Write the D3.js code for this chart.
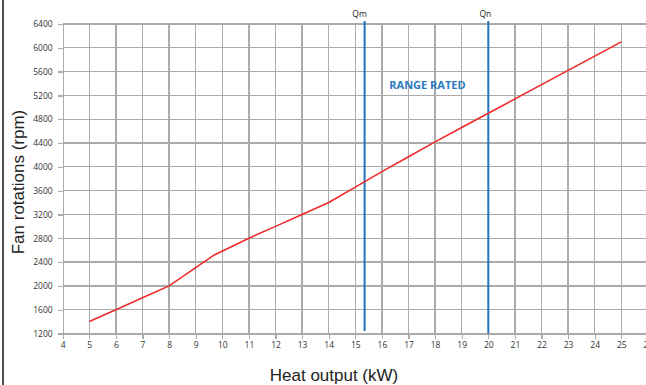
<!DOCTYPE html>
<meta charset="utf-8">
<style>

body {
  margin: 0;
  background: #fff;
}

.grid line {
  stroke: #ababab;
  stroke-width: 1.3;
  shape-rendering: crispEdges;
}

.axis path,
.axis line {
  fill: none;
  stroke: #ababab;
  stroke-width: 1.3;
  shape-rendering: crispEdges;
}

.axis text {
  font: 8.5px "Open Sans", sans-serif;
  fill: #333;
}

.title {
  font: 17px "Liberation Sans", Arial, sans-serif;
  fill: #222;
}

</style>
<body>
<script src="https://d3js.org/d3.v7.min.js"></script>
<script>

// heat output (kW) vs fan speed (rpm)
var heatOutput = [5, 6, 7, 8, 9.7, 11, 12, 13, 14, 15, 16, 17, 18, 19, 20, 25];
var fanRpm = [1400, 1600, 1800, 2000, 2520, 2800, 3000, 3200, 3400, 3660, 3920, 4170, 4420, 4660, 4900, 6100];

var xTicks = [4, 5, 6, 7, 8, 9, 10, 11, 12, 13, 14, 15, 16, 17, 18, 19, 20, 21, 22, 23, 24, 25, 26];
var yTicks = [1200, 1600, 2000, 2400, 2800, 3200, 3600, 4000, 4400, 4800, 5200, 5600, 6000, 6400];

var markerNames = ["Qm", "Qn"];
var markerValues = [15.35, 20];

var width = 646, height = 385;

var x = d3.scaleLinear().domain([4, 26]).range([62.7, 647.9]);
var y = d3.scaleLinear().domain([1200, 6400]).range([333.5, 24]);

var svg = d3.select("body").append("svg")
    .attr("width", width)
    .attr("height", height);

// left frame edge
svg.append("line")
    .attr("x1", 3).attr("x2", 3)
    .attr("y1", 0).attr("y2", height)
    .attr("stroke", "#111")
    .attr("stroke-width", 1.5);

// title, cut off at the top: only descenders show
svg.append("text")
    .attr("class", "title")
    .attr("x", 458)
    .attr("y", -3)
    .attr("text-anchor", "end")
    .text("Fan rotations (space heating)");

// grid
svg.append("g")
    .attr("class", "grid")
  .selectAll("line.v")
    .data(xTicks.slice(1))
  .enter().append("line")
    .attr("x1", function(d) { return x(d); })
    .attr("x2", function(d) { return x(d); })
    .attr("y1", y(6400))
    .attr("y2", y(1200));

svg.append("g")
    .attr("class", "grid")
  .selectAll("line.h")
    .data(yTicks.slice(1))
  .enter().append("line")
    .attr("x1", x(4))
    .attr("x2", x(26))
    .attr("y1", function(d) { return y(d); })
    .attr("y2", function(d) { return y(d); });

// axes
svg.append("g")
    .attr("class", "axis")
    .attr("transform", "translate(0," + y(1200) + ")")
    .call(d3.axisBottom(x).tickValues(xTicks).tickSize(5).tickPadding(3).tickFormat(d3.format("d")));

svg.append("g")
    .attr("class", "axis")
    .attr("transform", "translate(" + x(4) + ",0)")
    .call(d3.axisLeft(y).tickValues(yTicks).tickSize(5).tickPadding(5).tickFormat(d3.format("d")));

// Qm / Qn markers
svg.selectAll(".marker")
    .data(markerValues)
  .enter().append("line")
    .attr("class", "marker")
    .attr("x1", function(d) { return x(d); })
    .attr("x2", function(d) { return x(d); })
    .attr("y1", 21)
    .attr("y2", function(d, i) { return i == 0 ? 331 : y(1200); })
    .attr("stroke", "#1f74ba")
    .attr("stroke-width", 2);

svg.selectAll(".markerLabel")
    .data(markerValues)
  .enter().append("text")
    .attr("class", "markerLabel")
    .attr("x", function(d, i) { return x(d) - (i == 0 ? 5 : 3); })
    .attr("y", 17)
    .attr("text-anchor", "middle")
    .style("font", "8.5px 'Open Sans', sans-serif")
    .style("fill", "#222")
    .text(function(d, i) { return markerNames[i]; });

svg.append("text")
    .attr("x", (x(markerValues[0]) + x(markerValues[1])) / 2 + 1)
    .attr("y", 89)
    .attr("text-anchor", "middle")
    .style("font", "bold 11px 'Open Sans', sans-serif")
    .style("fill", "#2a7bc0")
    .text("RANGE RATED");

// curve
var line = d3.line()
    .x(function(d, i) { return x(heatOutput[i]); })
    .y(function(d) { return y(d); });

svg.append("path")
    .datum(fanRpm)
    .attr("d", line)
    .attr("fill", "none")
    .attr("stroke", "#f02a2a")
    .attr("stroke-width", 1.6);

// axis titles
svg.append("text")
    .attr("class", "title")
    .attr("transform", "translate(24,182) rotate(-90)")
    .attr("text-anchor", "middle")
    .text("Fan rotations (rpm)");

svg.append("text")
    .attr("class", "title")
    .attr("x", 334)
    .attr("y", 381)
    .attr("text-anchor", "middle")
    .text("Heat output (kW)");

</script>
</body>
